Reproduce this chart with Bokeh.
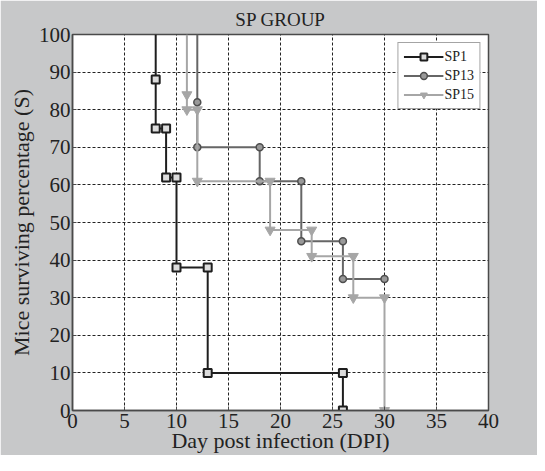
from bokeh.plotting import figure
from bokeh.models import FixedTicker, Legend, LegendItem, Range1d
from bokeh.embed import file_html
from bokeh.resources import INLINE

# ---- data ----
x_ticks = [0, 5, 10, 15, 20, 25, 30, 35, 40]
y_ticks = [0, 10, 20, 30, 40, 50, 60, 70, 80, 90, 100]

sp1_x = [8, 8, 8, 9, 9, 10, 10, 13, 13, 26, 26]
sp1_y = [100, 88, 75, 75, 62, 62, 38, 38, 10, 10, 0]

sp13_x = [12, 12, 12, 18, 18, 22, 22, 26, 26, 30]
sp13_y = [100, 82, 70, 70, 61, 61, 45, 45, 35, 35]

sp15_x = [11, 11, 11, 12, 12, 19, 19, 23, 23, 27, 27, 30, 30]
sp15_y = [100, 84, 80, 80, 61, 61, 48, 48, 41, 41, 30, 30, 0]

FONT = "Liberation Serif"
BG = "#c7c8c9"

p = figure(width=537, height=455, output_backend="svg", toolbar_location=None,
           x_range=Range1d(0, 40), y_range=Range1d(0, 100),
           min_border_left=72, min_border_right=49, min_border_top=34, min_border_bottom=42,
           background_fill_color="white", border_fill_color=BG)

p.title.text = "SP GROUP"
p.title.align = "center"
p.title.text_font = FONT
p.title.text_font_size = "19px"
p.title.text_font_style = "normal"
p.title.text_color = "#222222"
p.title.standoff = 9

p.outline_line_color = "#4a4a4a"
p.outline_line_width = 1.5

for ax in (p.xaxis[0], p.yaxis[0]):
    ax.major_label_text_font = FONT
    ax.major_label_text_font_size = "21px"
    ax.major_label_text_color = "#222222"
    ax.axis_label_text_font = FONT
    ax.axis_label_text_font_size = "22px"
    ax.axis_label_text_font_style = "normal"
    ax.axis_label_text_color = "#222222"
    ax.axis_line_color = "#4a4a4a"
    ax.axis_line_width = 1.5
    ax.major_tick_in = 4
    ax.major_tick_out = 0
    ax.minor_tick_line_color = None
    ax.major_tick_line_color = "#4a4a4a"

p.xaxis[0].ticker = FixedTicker(ticks=x_ticks)
p.yaxis[0].ticker = FixedTicker(ticks=y_ticks)
p.xaxis[0].axis_label = "Day post infection (DPI)"
p.yaxis[0].axis_label = "Mice surviving percentage (S)"
p.xaxis[0].major_label_standoff = 3
p.yaxis[0].major_label_standoff = 2
p.xaxis[0].axis_label_standoff = -3
p.yaxis[0].axis_label_standoff = 2

for g in (p.xgrid[0], p.ygrid[0]):
    g.grid_line_color = "#222222"
    g.grid_line_dash = "3 2"
    g.grid_line_width = 1
p.xgrid[0].ticker = FixedTicker(ticks=x_ticks)
p.ygrid[0].ticker = FixedTicker(ticks=y_ticks)

c1, c13, c15 = "#1e1e1e", "#666666", "#a6a6a6"

l1 = p.line(sp1_x, sp1_y, line_color=c1, line_width=2)
m1 = p.scatter(sp1_x[1:], sp1_y[1:], marker="square", size=8, line_color=c1,
               fill_color="#dddddd", line_width=2)
l13 = p.line(sp13_x, sp13_y, line_color=c13, line_width=2)
m13 = p.scatter(sp13_x[1:], sp13_y[1:], marker="circle", size=7, line_color="#4e4e4e",
                fill_color="#999999", line_width=1.5)
l15 = p.line(sp15_x, sp15_y, line_color=c15, line_width=2)
m15 = p.scatter(sp15_x[1:], sp15_y[1:], marker="inverted_triangle", size=10,
                line_color=c15, fill_color=c15, line_width=1)

legend = Legend(items=[
    LegendItem(label="SP1", renderers=[l1, m1]),
    LegendItem(label="SP13", renderers=[l13, m13]),
    LegendItem(label="SP15", renderers=[l15, m15]),
], location="top_right")
legend.label_text_font = FONT
legend.label_text_font_size = "14px"
legend.label_text_color = "#222222"
legend.glyph_width = 40
legend.glyph_height = 17
legend.label_height = 17
legend.label_standoff = 1
legend.spacing = 2
legend.padding = 5
legend.margin = 8
legend.border_line_color = "#4a4a4a"
legend.border_line_width = 1
legend.background_fill_color = "white"
legend.background_fill_alpha = 1
p.add_layout(legend, "center")

open("out.html", "w").write(file_html(p, INLINE))
